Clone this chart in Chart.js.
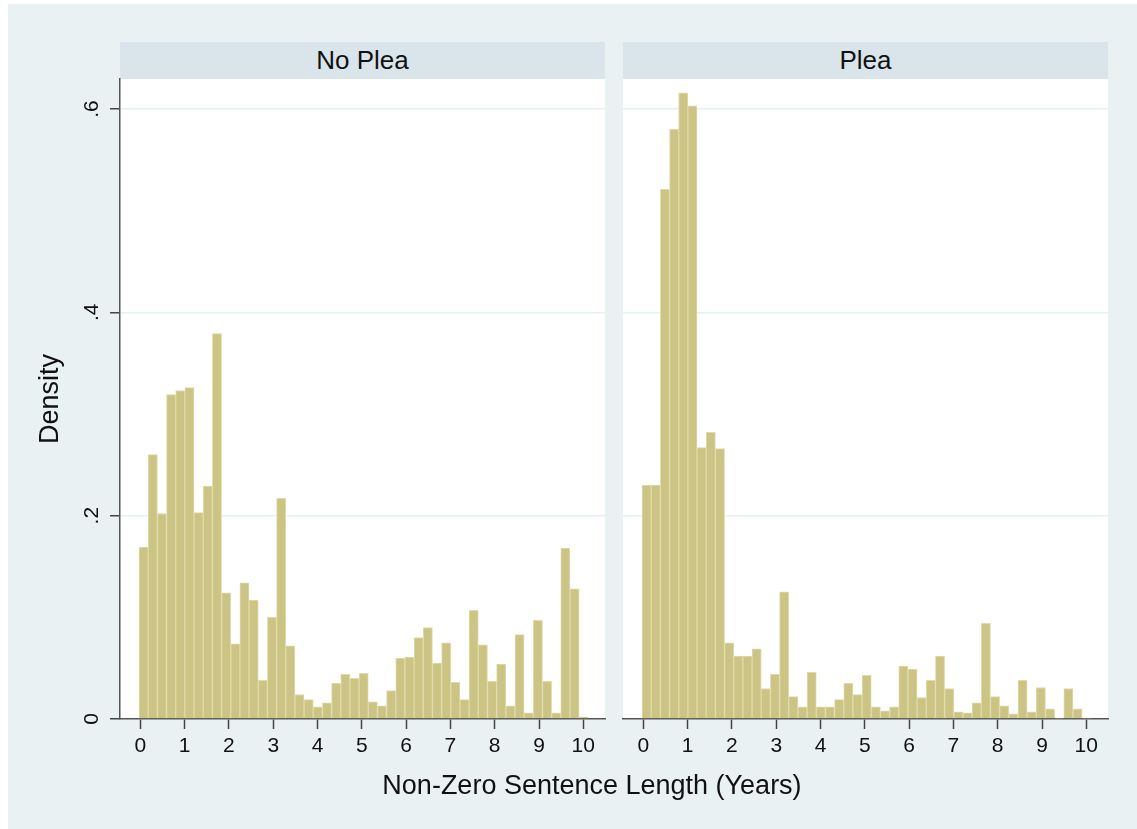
<!DOCTYPE html>
<html>
<head>
<meta charset="utf-8">
<script src="https://cdn.jsdelivr.net/npm/chart.js@4.4.1/dist/chart.umd.min.js"></script>
<style>
  body { margin: 0; background: #fff; width: 1137px; height: 829px; position: relative; overflow: hidden;
         font-family: "Liberation Sans", Arial, sans-serif; }
  #bg { position: absolute; left: 8px; top: 4px; width: 1129px; height: 825px; background: #e9f1f3; }
  .strip { position: absolute; top: 42px; height: 37px; background: #d9e5eb; color: #111;
           font-size: 26px; line-height: 37px; text-align: center; }
  canvas { position: absolute; top: 0; }
  #xtitle { position: absolute; left: 292px; width: 600px; top: 769px; font-size: 27px; line-height: 32px;
            text-align: center; color: #111; }
</style>
</head>
<body>
<div id="bg"></div>
<div class="strip" style="left:120px;width:485px">No Plea</div>
<div class="strip" style="left:623px;width:485px">Plea</div>
<canvas id="left" width="612" height="829" style="left:0;width:612px;height:829px"></canvas>
<canvas id="right" width="525" height="829" style="left:612px;width:525px;height:829px"></canvas>
<div id="xtitle">Non-Zero Sentence Length (Years)</div>
<script>
// histogram bins (years)
var binStart = -0.03;
var binWidth = 0.207;

// density per bin
var noPlea = [0.169, 0.260, 0.202, 0.319, 0.323, 0.326, 0.203, 0.229, 0.379, 0.124,
              0.074, 0.134, 0.117, 0.038, 0.100, 0.217, 0.072, 0.024, 0.019, 0.012,
              0.016, 0.035, 0.044, 0.040, 0.045, 0.017, 0.013, 0.028, 0.060, 0.061,
              0.080, 0.090, 0.055, 0.075, 0.036, 0.019, 0.107, 0.073, 0.037, 0.054,
              0.013, 0.083, 0.006, 0.097, 0.037, 0.006, 0.168, 0.128, 0.002];
var plea = [0.230, 0.230, 0.521, 0.580, 0.616, 0.603, 0.267, 0.282, 0.266, 0.075,
            0.062, 0.062, 0.069, 0.030, 0.044, 0.125, 0.022, 0.012, 0.046, 0.012,
            0.012, 0.019, 0.035, 0.024, 0.043, 0.012, 0.008, 0.012, 0.052, 0.049,
            0.021, 0.038, 0.062, 0.030, 0.007, 0.006, 0.016, 0.094, 0.022, 0.013,
            0.005, 0.038, 0.007, 0.031, 0.010, 0.001, 0.030, 0.010, 0.001];

var xTicks = [0, 1, 2, 3, 4, 5, 6, 7, 8, 9, 10];
var yTicks = [0, 0.2, 0.4, 0.6];
var yTickLabels = ['0', '.2', '.4', '.6'];

Chart.defaults.font.family = '"Liberation Sans", Arial, sans-serif';
Chart.defaults.color = '#111';

var plotBg = {
  id: 'plotBg',
  beforeDraw: function(chart) {
    var a = chart.chartArea, ctx = chart.ctx;
    ctx.save();
    ctx.fillStyle = '#ffffff';
    ctx.fillRect(a.left, a.top, a.right - a.left, a.bottom - a.top);
    ctx.restore();
  }
};

function makeChart(id, values, showY, pad) {
  var pts = values.map(function(v, i) {
    return { x: binStart + binWidth * (i + 0.5), y: v };
  });
  var ctx = document.getElementById(id).getContext('2d');
  return new Chart(ctx, {
    type: 'bar',
    data: {
      datasets: [{
        data: pts,
        backgroundColor: 'rgb(204, 196, 132)',
        borderColor: 'rgb(224, 219, 170)',
        borderWidth: 1,
        barPercentage: 1,
        categoryPercentage: 1
      }]
    },
    options: {
      responsive: false,
      animation: false,
      layout: { padding: pad },
      plugins: { legend: { display: false }, tooltip: { enabled: false } },
      scales: {
        x: {
          type: 'linear',
          min: -0.46,
          max: 10.49,
          offset: false,
          afterBuildTicks: function(s) { s.ticks = xTicks.map(function(v) { return { value: v }; }); },
          afterFit: function(s) { s.height = 40; },
          grid: { offset: false, drawOnChartArea: false, drawTicks: true, tickLength: 10, tickColor: '#444', tickWidth: 1.5 },
          border: { display: true, color: '#555', width: 1.5 },
          ticks: { font: { size: 21 }, padding: 5, maxRotation: 0, autoSkip: false }
        },
        y: {
          min: 0,
          max: 0.6295,
          afterBuildTicks: function(s) { s.ticks = yTicks.map(function(v) { return { value: v }; }); },
          afterFit: function(s) { s.width = showY ? 120 : 0; },
          grid: {
            color: function(c) { return c.tick && c.tick.value === 0 ? 'rgba(0,0,0,0)' : '#e6eff1'; },
            lineWidth: 1.5,
            drawTicks: showY,
            tickLength: 10,
            tickColor: '#444',
            tickWidth: 1.5
          },
          border: { display: showY, color: '#555', width: 1.5 },
          ticks: {
            display: showY,
            font: { size: 21 },
            minRotation: 90,
            maxRotation: 90,
            crossAlign: 'center',
            padding: 9,
            callback: function(v, i) { return yTickLabels[i]; }
          },
          title: {
            display: showY,
            text: 'Density',
            font: { size: 27 },
            padding: { top: 34, bottom: 0 }
          }
        }
      }
    },
    plugins: [plotBg]
  });
}

makeChart('left', noPlea, true, { left: 0, right: 7, top: 79, bottom: 70 });
makeChart('right', plea, false, { left: 11, right: 29, top: 79, bottom: 70 });
</script>
</body>
</html>
